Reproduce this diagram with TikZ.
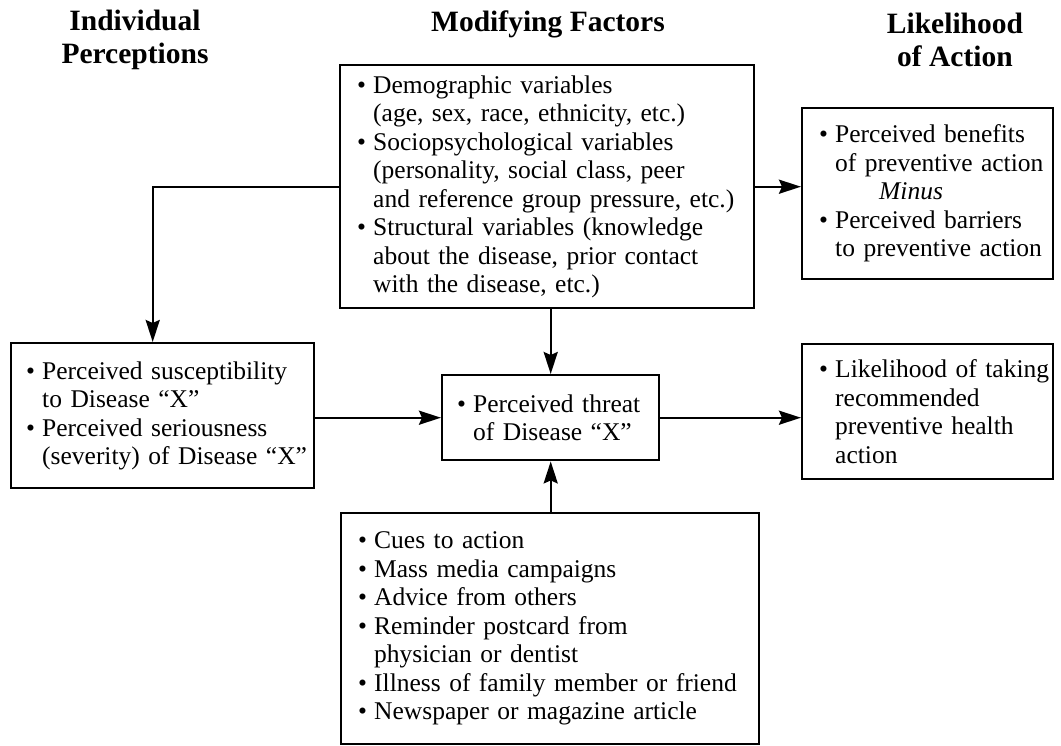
\documentclass[tikz,border=0pt]{standalone}
\usepackage{fontspec}
\setmainfont{Liberation Serif}
\usetikzlibrary{arrows.meta}
% bullet item and its continuation line, never broken
\newcommand\bitem[1]{\mbox{\makebox[16pt][l]{\textbullet}#1}}
\newcommand\bcont[1]{\mbox{\hspace*{16pt}#1}}
\begin{document}
\begin{tikzpicture}[x=1pt,y=-1pt,
  box/.style={draw, line width=2.4pt, anchor=north west, inner xsep=17pt,
    inner ysep=0pt, align=left, font=\fontsize{25.5}{28.5}\selectfont},
  head/.style={font=\fontsize{29.5}{33}\selectfont\bfseries, align=center},
  arr/.style={line width=2.4pt, -{Stealth[length=22pt,width=14pt,inset=3pt]}}]
\useasboundingbox (0,0) rectangle (1061,745);

% column headings
\node[head] (h1) at (135,40) {Individual\\Perceptions};
\node[head] (h2) at (548,24) {Modifying Factors};
\node[head] (h3) at (955,40) {Likelihood\\of Action};

% modifying factors
\node[box, minimum width=414pt, text width=380pt, minimum height=243pt] (mod) at (339,64) {%
  \bitem{Demographic variables}\\
  \bcont{(age, sex, race, ethnicity, etc.)}\\
  \bitem{Sociopsychological variables}\\
  \bcont{(personality, social class, peer}\\
  \bcont{and reference group pressure, etc.)}\\
  \bitem{Structural variables (knowledge}\\
  \bcont{about the disease, prior contact}\\
  \bcont{with the disease, etc.)}};

% individual perceptions
\node[box, inner xsep=15pt, minimum width=303pt, text width=273pt, minimum height=145pt] (perc) at (10,342) {%
  \bitem{Perceived susceptibility}\\
  \bcont{to Disease ``X''}\\
  \bitem{Perceived seriousness}\\
  \bcont{(severity) of Disease ``X''}};

% perceived threat
\node[box, inner xsep=15pt, minimum width=217pt, text width=187pt, minimum height=85pt] (threat) at (441,374) {%
  \bitem{Perceived threat}\\
  \bcont{of Disease ``X''}};

% cues to action
\node[box, minimum width=418pt, text width=384pt, minimum height=231pt] (cues) at (340,512) {%
  \bitem{Cues to action}\\
  \bitem{Mass media campaigns}\\
  \bitem{Advice from others}\\
  \bitem{Reminder postcard from}\\
  \bcont{physician or dentist}\\
  \bitem{Illness of family member or friend}\\
  \bitem{Newspaper or magazine article}};

% likelihood of action
\node[box, minimum width=251pt, text width=217pt, minimum height=171pt] (benefit) at (801,107) {%
  \bitem{Perceived benefits}\\
  \bcont{of preventive action}\\
  \mbox{\hspace*{60pt}\textit{Minus}}\\
  \bitem{Perceived barriers}\\
  \bcont{to preventive action}};

\node[box, minimum width=251pt, text width=217pt, minimum height=135pt] (act) at (801,343) {%
  \bitem{Likelihood of taking}\\
  \bcont{recommended}\\
  \bcont{preventive health}\\
  \bcont{action}};

% connectors
\draw[arr] (mod.west) -| ([xshift=-10pt]perc.north);
\draw[arr] (mod.east) -- (mod.east -| benefit.west);
\draw[arr] (mod.south -| threat.north) -- (threat.north);
\draw[arr] (threat.west -| perc.east) -- (threat.west);
\draw[arr] (threat.east) -- (threat.east -| act.west);
\draw[arr] (cues.north -| threat.south) -- (threat.south);
\end{tikzpicture}
\end{document}
